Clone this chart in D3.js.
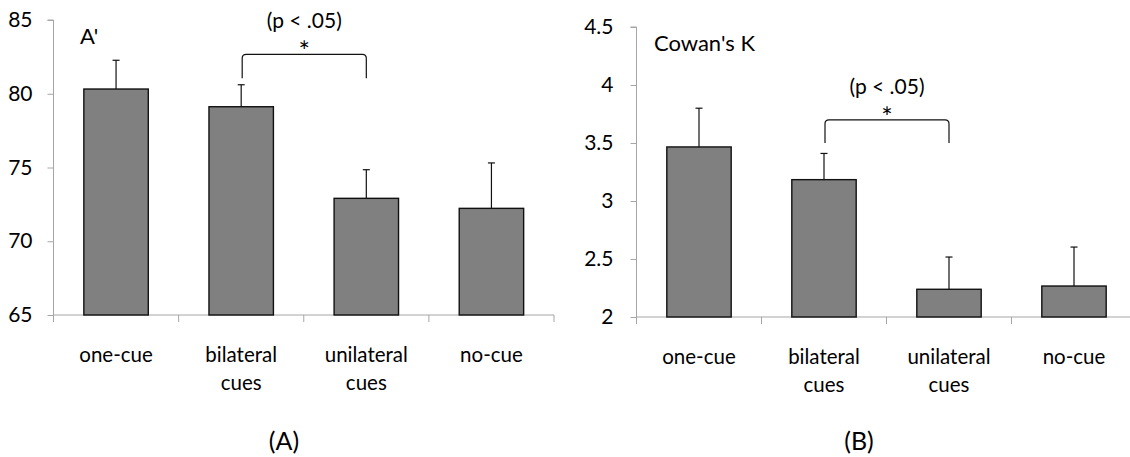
<!DOCTYPE html>
<html><head><meta charset="utf-8">
<script src="https://cdn.jsdelivr.net/npm/d3@7"></script>
<style>
html,body{margin:0;padding:0;background:#fff;}
svg{display:block;font-family:Lato,"Open Sans",sans-serif;}
</style></head>
<body>
<svg id="chart" width="1130" height="457"></svg>
<script>
const categories = ["one-cue", "bilateral cues", "unilateral cues", "no-cue"];
const aprimeValues = [80.32, 79.12, 72.91, 72.23];
const aprimeErrors = [1.95, 1.49, 1.94, 3.08];
const aprimeTicks = [65, 70, 75, 80, 85];
const aprimeSig = {from: 1, to: 2, top: 82.67, leg: 81.05};
const cowanValues = [3.466, 3.184, 2.239, 2.267];
const cowanErrors = [0.334, 0.226, 0.278, 0.336];
const cowanTicks = [2, 2.5, 3, 3.5, 4, 4.5];
const cowanSig = {from: 1, to: 2, top: 3.70, leg: 3.50};

const svg = d3.select("#chart");
const axisColor = "#a6a6a6";

function panel(opt) {
  const g = svg.append("g");
  const x = d3.scaleBand().domain(opt.categories).range([opt.x0, opt.x1]).paddingInner(0.485).paddingOuter(0.2425);
  const xTick = d3.scaleBand().domain(opt.categories).range([opt.x0, opt.x1]);
  const y = d3.scaleLinear().domain(opt.domain).range([opt.y0, opt.y1]);

  // y axis
  const yAxis = d3.axisLeft(y).tickValues(opt.ticks).tickSize(6).tickPadding(opt.tickPad)
    .tickFormat(d => String(d));
  const ya = g.append("g").attr("transform", `translate(${opt.x0},0)`).call(yAxis);
  ya.select(".domain").attr("stroke", axisColor).attr("d", `M-6,${opt.y1}H0V${opt.y0}`);
  ya.selectAll(".tick line").attr("stroke", axisColor);
  ya.selectAll(".tick text").attr("fill", "#000").style("font-size", "21px").style("font-family", "Lato");

  // x axis line and ticks at band boundaries
  const bounds = opt.categories.map(c => xTick(c)).concat([opt.x1]);
  g.append("line").attr("x1", opt.x0).attr("x2", opt.x1).attr("y1", opt.y0).attr("y2", opt.y0)
    .attr("stroke", axisColor).attr("stroke-width", 1);
  g.selectAll(".xt").data(bounds).join("line")
    .attr("x1", d => d).attr("x2", d => d).attr("y1", opt.y0).attr("y2", opt.y0 + 7)
    .attr("stroke", axisColor);

  // bars
  g.selectAll(".bar").data(opt.values).join("rect")
    .attr("x", (d, i) => x(opt.categories[i]))
    .attr("width", x.bandwidth())
    .attr("y", d => y(d))
    .attr("height", d => y(opt.domain[0]) - y(d))
    .attr("fill", "#808080").attr("stroke", "#111").attr("stroke-width", 1.4);

  // error bars (upward only)
  opt.values.forEach((v, i) => {
    const cx = x(opt.categories[i]) + x.bandwidth() / 2;
    const top = y(v + opt.errors[i]);
    g.append("line").attr("x1", cx).attr("x2", cx).attr("y1", y(v)).attr("y2", top)
      .attr("stroke", "#111").attr("stroke-width", 1.2);
    g.append("line").attr("x1", cx - 3.5).attr("x2", cx + 3.5).attr("y1", top).attr("y2", top)
      .attr("stroke", "#111").attr("stroke-width", 1.2);
  });

  // x labels
  opt.categories.forEach(c => {
    const words = c.split(" ");
    const t = g.append("text").attr("text-anchor", "middle")
      .attr("x", x(c) + x.bandwidth() / 2).attr("y", opt.y0 + 47)
      .style("font-size", "20.5px").attr("fill", "#000");
    words.forEach((w, k) => t.append("tspan").attr("x", x(c) + x.bandwidth() / 2)
      .attr("dy", k === 0 ? 0 : 28).text(w));
  });

  // significance bracket
  const s = opt.sig;
  const bx1 = x(opt.categories[s.from]) + x.bandwidth() / 2 + 1;
  const bx2 = x(opt.categories[s.to]) + x.bandwidth() / 2;
  const by = y(s.top), bl = y(s.leg), r = 4;
  g.append("path")
    .attr("d", `M${bx1},${bl}L${bx1},${by + r}Q${bx1},${by} ${bx1 + r},${by}L${bx2 - r},${by}Q${bx2},${by} ${bx2},${by + r}L${bx2},${bl}`)
    .attr("fill", "none").attr("stroke", "#111").attr("stroke-width", 1.2);
  const mid = (bx1 + bx2) / 2;
  g.append("text").attr("x", mid).attr("y", by + 7).attr("text-anchor", "middle")
    .style("font-size", "27px").text("*");
  g.append("text").attr("x", mid).attr("y", by - 26).attr("text-anchor", "middle")
    .style("font-size", "21px").text("(p < .05)");

  // panel title
  g.append("text").attr("x", opt.titleX).attr("y", opt.titleY)
    .style("font-size", "22px").text(opt.title);
  // panel letter
  g.append("text").attr("x", opt.letterX).attr("y", 450).attr("text-anchor", "middle")
    .style("font-size", "25px").text(opt.letter);
}

panel({categories, values: aprimeValues, errors: aprimeErrors, ticks: aprimeTicks,
  domain: [65, 85], x0: 53.5, x1: 554, y0: 315, y1: 20, sig: aprimeSig, tickPad: 15,
  title: "A'", titleX: 80, titleY: 44, letter: "(A)", letterX: 284});
panel({categories, values: cowanValues, errors: cowanErrors, ticks: cowanTicks,
  domain: [2, 4.5], x0: 636.5, x1: 1136.5, y0: 317, y1: 27, sig: cowanSig, tickPad: 17,
  title: "Cowan's K", titleX: 654, titleY: 51, letter: "(B)", letterX: 859});
</script>
</body></html>
